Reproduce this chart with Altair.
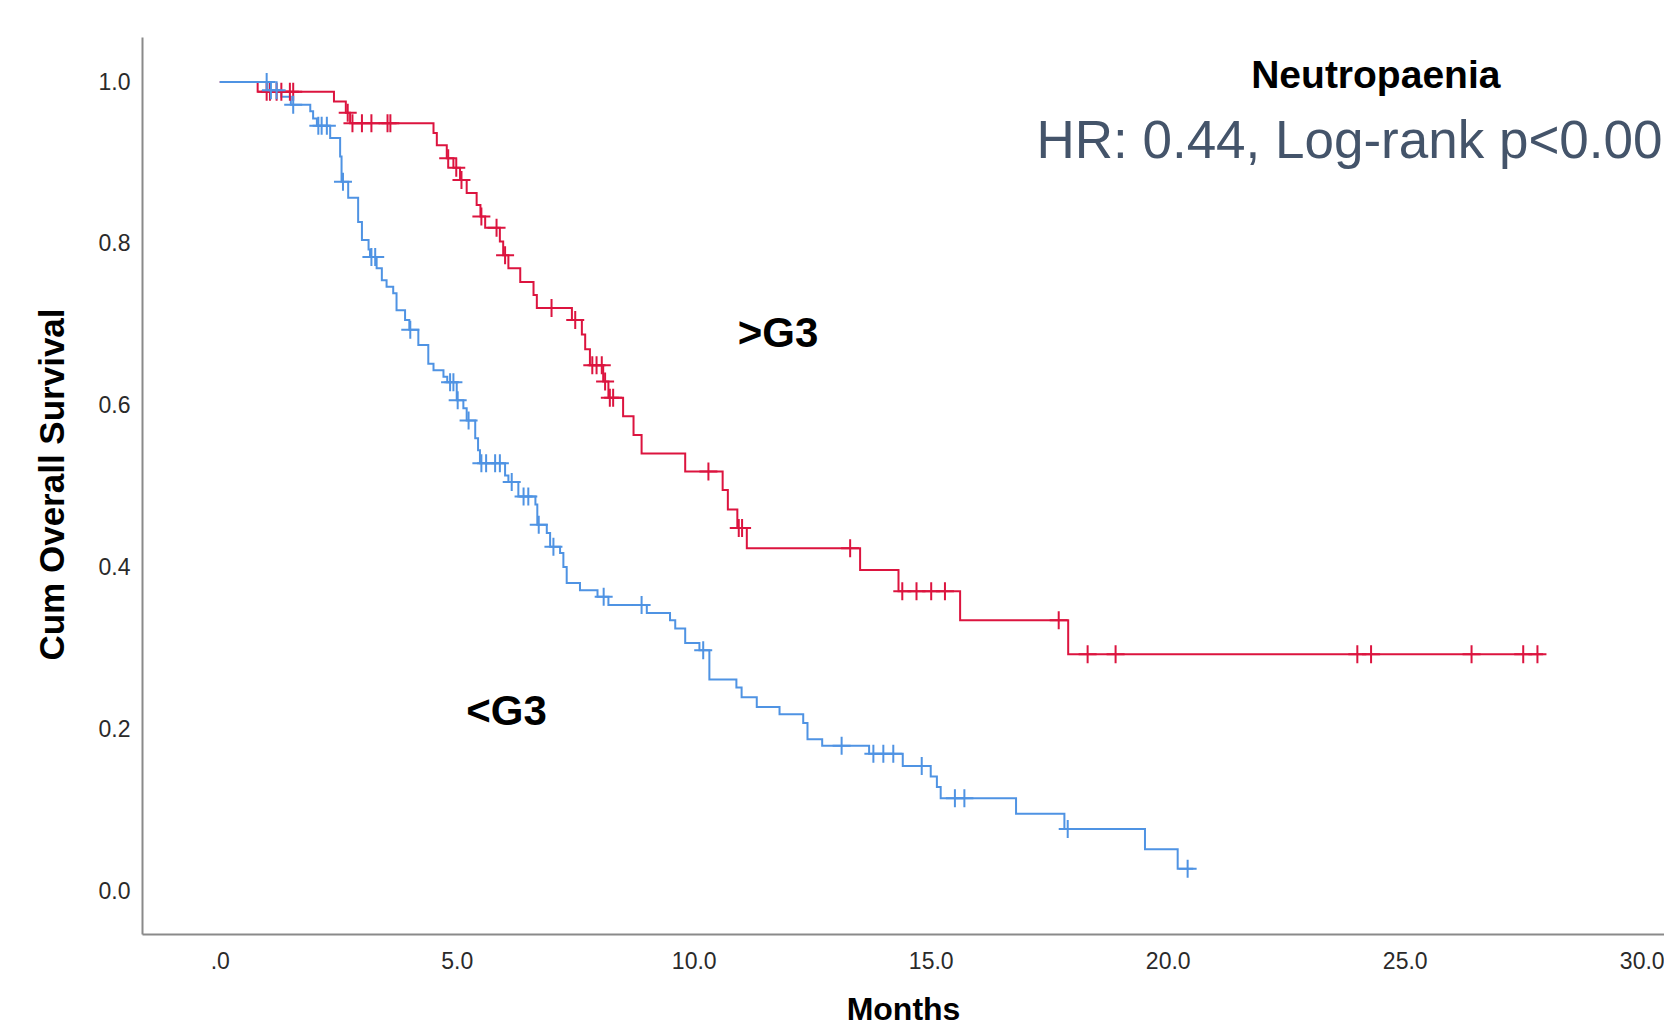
import altair as alt
import pandas as pd

# ---------------- data ----------------
groups = [">G3", "<G3"]
colors = ["#DC143F", "#4F93E3"]

# >G3 (red): step times (months) and survival after each step
hi_time = [0, 0.80, 2.41, 2.66, 2.75, 4.51, 4.58, 4.79, 4.93, 5.07,
           5.21, 5.42, 5.50, 5.60, 5.91, 5.98, 6.09, 6.34, 6.62, 6.69,
           7.43, 7.64, 7.71, 7.81, 8.09, 8.20, 8.51, 8.73, 8.90, 9.82,
           10.61, 10.72, 10.92, 11.12, 13.51, 14.32, 15.62, 17.90]
hi_surv = [1.0, 0.988, 0.976, 0.962, 0.949, 0.937, 0.922, 0.906, 0.894, 0.879,
           0.863, 0.848, 0.834, 0.820, 0.803, 0.786, 0.770, 0.753, 0.737, 0.721,
           0.706, 0.688, 0.670, 0.650, 0.630, 0.610, 0.587, 0.564, 0.541, 0.519,
           0.496, 0.472, 0.449, 0.424, 0.397, 0.371, 0.335, 0.293]
hi_end = 27.92
hi_censor = [0.99, 1.06, 1.20, 1.30, 1.48, 1.55, 2.70, 2.80, 3.00, 3.20,
             3.54, 3.60, 4.82, 4.99, 5.10, 5.52, 5.84, 6.02, 7.00, 7.50,
             7.86, 7.95, 8.06, 8.13, 8.23, 8.30, 10.31, 10.95, 11.02, 13.30,
             14.40, 14.70, 15.01, 15.30, 17.70, 18.31, 18.90, 24.00, 24.29,
             26.41, 27.50, 27.80]

# <G3 (blue)
lo_time = [0, 1.05, 1.30, 1.50, 1.91, 1.97, 2.05, 2.33, 2.54, 2.57,
           2.71, 2.92, 3.00, 3.14, 3.17, 3.31, 3.42, 3.52, 3.66, 3.73,
           3.91, 4.00, 4.19, 4.40, 4.51, 4.72, 4.80, 5.00, 5.14, 5.21,
           5.39, 5.45, 5.49, 6.02, 6.09, 6.30, 6.66, 6.70, 6.90, 6.97,
           7.18, 7.25, 7.32, 7.60, 7.97, 8.20, 9.01, 9.50, 9.61, 9.82,
           10.12, 10.33, 10.90, 11.01, 11.33, 11.81, 12.31, 12.40, 12.71, 13.70,
           14.41, 15.00, 15.13, 15.21, 16.80, 17.82, 19.52, 20.21]
lo_surv = [1.0, 0.990, 0.982, 0.972, 0.964, 0.955, 0.946, 0.931, 0.908, 0.877,
           0.857, 0.827, 0.805, 0.793, 0.784, 0.770, 0.755, 0.747, 0.739, 0.718,
           0.706, 0.694, 0.675, 0.652, 0.644, 0.636, 0.629, 0.607, 0.597, 0.582,
           0.560, 0.545, 0.529, 0.514, 0.506, 0.488, 0.478, 0.453, 0.443, 0.426,
           0.418, 0.401, 0.381, 0.372, 0.364, 0.354, 0.344, 0.335, 0.325, 0.307,
           0.298, 0.262, 0.252, 0.240, 0.228, 0.219, 0.208, 0.188, 0.180, 0.170,
           0.155, 0.142, 0.129, 0.115, 0.096, 0.077, 0.052, 0.028]
lo_end = 20.54
lo_censor = [0.99, 1.08, 1.20, 1.55, 2.08, 2.15, 2.26, 2.60, 3.20, 3.28,
             4.02, 4.86, 4.93, 5.02, 5.25, 5.52, 5.62, 5.81, 5.91, 6.16,
             6.41, 6.51, 6.73, 7.04, 8.10, 8.90, 10.20, 13.12, 13.79, 14.00,
             14.21, 14.81, 15.51, 15.71, 17.89, 20.42]

x_ticks = [0, 5, 10, 15, 20, 25, 30]
y_ticks = [0.0, 0.2, 0.4, 0.6, 0.8, 1.0]

title_text = "Neutropaenia"
hr_text = "HR: 0.44, Log-rank p<0.001"

# ---------------- build tables ----------------
def step_value(times, survs, t):
    v = survs[0]
    for ti, si in zip(times, survs):
        if ti <= t:
            v = si
    return v

line_rows = []
cens_rows = []
for g, times, survs, end, cens in [
    (groups[0], hi_time, hi_surv, hi_end, hi_censor),
    (groups[1], lo_time, lo_surv, lo_end, lo_censor),
]:
    for i, (t, s) in enumerate(zip(times, survs)):
        line_rows.append({"month": t, "surv": s, "group": g, "order": i})
    line_rows.append({"month": end, "surv": survs[-1], "group": g, "order": len(times)})
    for c in cens:
        cens_rows.append({"month": c, "surv": step_value(times, survs, c), "group": g})

lines_df = pd.DataFrame(line_rows)
cens_df = pd.DataFrame(cens_rows)

bold_font = "Liberation Sans, Arial, sans-serif"

xenc = alt.X(
    "month:Q",
    scale=alt.Scale(domain=[-1.64, 30.47], nice=False, zero=False),
    axis=alt.Axis(
        values=x_ticks,
        labelExpr="datum.value == 0 ? '.0' : format(datum.value, '.1f')",
        title="Months",
        titleFont=bold_font, titleFontSize=32, titleFontWeight="bold",
        titleColor="#000000",
        titleY=85, titleBaseline="alphabetic",
        labelPadding=16,
    ),
)
yenc = alt.Y(
    "surv:Q",
    scale=alt.Scale(domain=[-0.0526, 1.0557], nice=False, zero=False),
    axis=alt.Axis(
        values=y_ticks, format=".1f",
        title="Cum Overall Survival",
        titleFont=bold_font, titleFontSize=35, titleFontWeight="bold",
        titleColor="#000000",
        titleAngle=270, titleX=-79, titleY=447, titleAlign="center",
        titleBaseline="alphabetic",
        labelPadding=12,
    ),
)
color = alt.Color("group:N", scale=alt.Scale(domain=groups, range=colors), legend=None)

lines = alt.Chart(lines_df).mark_line(interpolate="step-after", strokeWidth=2).encode(
    x=xenc, y=yenc, color=color, detail="group:N", order="order:Q"
)

cens = alt.Chart(cens_df).mark_point(
    shape="M-1,0L1,0M0,-1L0,1", filled=False, size=324, strokeWidth=2, opacity=1
).encode(x="month:Q", y="surv:Q", color=color)

lab_df = pd.DataFrame({"month": [11.78, 6.05], "surv": [0.689, 0.2217], "text": groups})
labels = alt.Chart(lab_df).mark_text(
    font=bold_font, fontSize=42, fontWeight="bold", color="#000000",
    align="center", baseline="middle"
).encode(x="month:Q", y="surv:Q", text="text:N")

t_df = pd.DataFrame({"month": [24.39], "surv": [1.0079], "text": [title_text]})
title_mark = alt.Chart(t_df).mark_text(
    font=bold_font, fontSize=39, fontWeight="bold", color="#000000",
    align="center", baseline="middle"
).encode(x="month:Q", y="surv:Q", text="text:N")

hr_df = pd.DataFrame({"month": [17.23], "surv": [0.926], "text": [hr_text]})
hr_mark = alt.Chart(hr_df).mark_text(
    font="Liberation Sans, Arial, sans-serif", fontSize=53, color="#44546A",
    align="left", baseline="middle"
).encode(x="month:Q", y="surv:Q", text="text:N")

chart = alt.layer(lines, cens, labels, title_mark, hr_mark).properties(
    width=1522, height=897,
    padding={"left": 134, "top": 29, "right": 0, "bottom": 94},
    autosize=alt.AutoSizeParams(type="none"),
).configure_view(stroke=None).configure_axis(
    grid=False, ticks=False,
    domainColor="#8a8a8a", domainWidth=2,
    labelFont="Liberation Sans, Arial, sans-serif", labelFontSize=23, labelColor="#2a2a2a",
)

chart.save("out.html", embed_options={"renderer": "svg", "actions": False})
